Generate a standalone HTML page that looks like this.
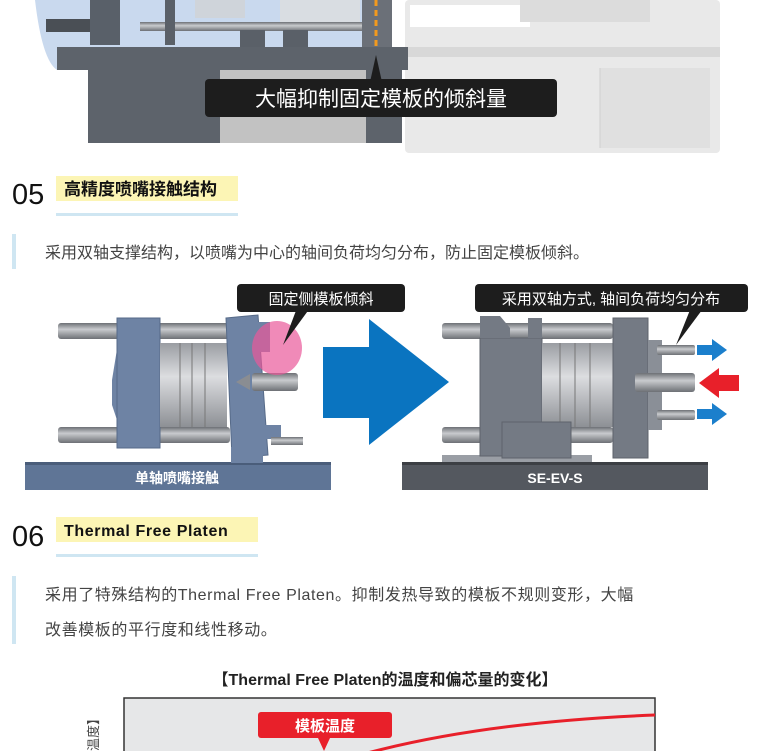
<!DOCTYPE html>
<html><head><meta charset="utf-8"><style>
html,body{margin:0;padding:0;background:#fff;}
body{width:768px;height:751px;overflow:hidden;position:relative;font-family:"Liberation Sans","Noto Sans CJK SC",sans-serif;}
.abs{position:absolute;}
</style></head><body>
<svg class="abs" style="left:0;top:0" width="768" height="751" xmlns="http://www.w3.org/2000/svg">
<defs>
<linearGradient id="rod" x1="0" y1="0" x2="0" y2="1"><stop offset="0" stop-color="#6d7075"/><stop offset="0.4" stop-color="#c9cbce"/><stop offset="1" stop-color="#6d7075"/></linearGradient>
<linearGradient id="drum" x1="0" y1="0" x2="0" y2="1"><stop offset="0" stop-color="#9a9da2"/><stop offset="0.4" stop-color="#dcdde0"/><stop offset="1" stop-color="#8d9095"/></linearGradient>
</defs>
<!-- top machine image -->
<path d="M35 0 H380 V47 H57 V70 Q42 60 35 0Z" fill="#c9d9ee"/>
<rect x="405" y="0" width="315" height="153" fill="#e9e9e9" rx="4"/>
<rect x="410" y="5" width="120" height="22" fill="#fff"/>
<rect x="520" y="0" width="130" height="22" fill="#dcdcdc"/>
<rect x="405" y="47" width="315" height="10" fill="#d8d8d8"/>
<rect x="600" y="68" width="110" height="80" fill="#e0e0e0"/>
<line x1="600" y1="68" x2="600" y2="148" stroke="#cfcfcf"/>
<rect x="46" y="19" width="45" height="13" fill="#4a4f55"/>
<rect x="90" y="0" width="30" height="45" fill="#596069"/>
<rect x="140" y="22" width="225" height="9" fill="url(#rod)"/>
<rect x="165" y="0" width="10" height="45" fill="#5a6068"/>
<rect x="240" y="30" width="25" height="17" fill="#5a6068"/>
<rect x="283" y="30" width="25" height="17" fill="#5a6068"/>
<rect x="195" y="0" width="50" height="18" fill="#cfd4da"/>
<rect x="280" y="0" width="80" height="22" fill="#d9dde2"/>
<rect x="362" y="0" width="30" height="47" fill="#6b7078"/>
<rect x="57" y="47" width="351" height="23" fill="#5d636b"/>
<rect x="88" y="70" width="132" height="73" fill="#5d636b"/>
<rect x="366" y="70" width="36" height="73" fill="#5d636b"/>
<rect x="220" y="70" width="146" height="73" fill="#c2c2c2"/>
<line x1="376" y1="0" x2="376" y2="47" stroke="#f39a1e" stroke-width="3" stroke-dasharray="6,4"/>
<polygon points="370,82 376,55 382,82" fill="#1d1d1d"/>
<rect x="205" y="79" width="352" height="38" rx="4" fill="#1d1d1d"/>
<text x="381" y="106" fill="#fff" font-size="21" text-anchor="middle">大幅抑制固定模板的倾斜量</text>

<!-- section 05 -->
<text x="12" y="204" font-size="29" fill="#111">05</text>
<rect x="56" y="176" width="182" height="25" fill="#fcf5b5"/>
<text x="64" y="195" font-size="17" font-weight="bold" fill="#111">高精度喷嘴接触结构</text>
<rect x="56" y="213" width="182" height="3" fill="#cfe6f2"/>
<rect x="12" y="234" width="4" height="35" fill="#cfe6f2"/>
<text x="45" y="258" font-size="16" fill="#444">采用双轴支撑结构，以喷嘴为中心的轴间负荷均匀分布，防止固定模板倾斜。</text>

<!-- left machine -->
<rect x="25" y="462" width="306" height="28" fill="#5f7596"/>
<rect x="25" y="462" width="306" height="3" fill="#4a5d7a"/>
<text x="177" y="483" font-size="14" font-weight="bold" fill="#fff" text-anchor="middle">单轴喷嘴接触</text>
<rect x="58" y="323" width="172" height="16" rx="3" fill="url(#rod)"/>
<rect x="58" y="427" width="172" height="16" rx="3" fill="url(#rod)"/>
<polygon points="112,380 118,343 150,343 150,423 118,423 112,405" fill="#6e83a4"/>
<rect x="117" y="318" width="43" height="130" fill="#6e83a4" stroke="#566a88"/>
<rect x="160" y="343" width="67" height="84" fill="url(#drum)"/>
<line x1="180" y1="343" x2="180" y2="427" stroke="#777"/><line x1="192" y1="343" x2="192" y2="427" stroke="#777"/><line x1="205" y1="343" x2="205" y2="427" stroke="#777"/>
<polygon points="226,318 258,315 268,455 232,458" fill="#6e83a4" stroke="#566a88"/>
<rect x="256" y="322" width="14" height="30" fill="#6e83a4"/>
<rect x="231" y="447" width="32" height="16" fill="#6e83a4"/>
<rect x="252" y="373" width="46" height="18" rx="3" fill="url(#rod)"/>
<polygon points="236,382 250,374 250,390" fill="#8a8d92"/>
<rect x="265" y="425" width="16" height="14" fill="#6e83a4"/>
<rect x="271" y="437" width="32" height="8" fill="url(#rod)"/>
<ellipse cx="277" cy="348" rx="25" ry="27" fill="#e9589a" opacity="0.7"/>
<polygon points="283,345 297,308 310,308" fill="#1d1d1d"/>
<rect x="237" y="284" width="168" height="28" rx="4" fill="#1d1d1d"/>
<text x="321" y="304" font-size="15" fill="#fff" text-anchor="middle">固定侧模板倾斜</text>

<!-- big arrow -->
<polygon points="323,347 369,347 369,319 449,382 369,445 369,418 323,418" fill="#0a74c0"/>

<!-- right machine -->
<rect x="402" y="462" width="306" height="28" fill="#54585f"/>
<rect x="402" y="462" width="306" height="3" fill="#3c3f44"/>
<text x="555" y="483" font-size="14" font-weight="bold" fill="#fff" text-anchor="middle">SE-EV-S</text>
<rect x="442" y="455" width="150" height="7" fill="#9a9ea5"/>
<rect x="442" y="323" width="171" height="16" rx="3" fill="url(#rod)"/>
<rect x="442" y="427" width="171" height="16" rx="3" fill="url(#rod)"/>
<rect x="480" y="338" width="62" height="118" fill="#747a84" stroke="#5e636b"/>
<polygon points="480,316 500,316 510,328 510,338 480,338" fill="#747a84"/>
<rect x="528" y="318" width="14" height="20" fill="#747a84"/>
<rect x="542" y="343" width="71" height="84" fill="url(#drum)"/>
<line x1="560" y1="343" x2="560" y2="427" stroke="#777"/><line x1="575" y1="343" x2="575" y2="427" stroke="#777"/><line x1="590" y1="343" x2="590" y2="427" stroke="#777"/>
<rect x="502" y="422" width="69" height="36" fill="#747a84" stroke="#5e636b"/>
<rect x="613" y="318" width="35" height="140" fill="#747a84" stroke="#5e636b"/>
<rect x="648" y="340" width="14" height="90" fill="#8a8f97"/>
<rect x="635" y="373" width="60" height="19" rx="3" fill="url(#rod)"/>
<rect x="657" y="345" width="38" height="10" rx="2" fill="url(#rod)"/>
<rect x="657" y="410" width="38" height="10" rx="2" fill="url(#rod)"/>
<polygon points="697,345 712,345 712,339 727,350 712,361 712,355 697,355" fill="#1b7fcc"/>
<polygon points="697,409 712,409 712,403 727,414 712,425 712,419 697,419" fill="#1b7fcc"/>
<polygon points="739,375 719,375 719,368 699,383 719,398 719,391 739,391" fill="#e8202a"/>
<polygon points="676,345 690,310 702,310" fill="#1d1d1d"/>
<rect x="475" y="284" width="273" height="28" rx="4" fill="#1d1d1d"/>
<text x="611" y="304" font-size="15" fill="#fff" text-anchor="middle">采用双轴方式, 轴间负荷均匀分布</text>

<!-- section 06 -->
<text x="12" y="546" font-size="29" fill="#111">06</text>
<rect x="56" y="517" width="202" height="25" fill="#fcf5b5"/>
<text x="64" y="536" font-size="16" font-weight="bold" fill="#111" letter-spacing="0.6">Thermal Free Platen</text>
<rect x="56" y="554" width="202" height="3" fill="#cfe6f2"/>
<rect x="12" y="576" width="4" height="68" fill="#cfe6f2"/>
<text x="45" y="600" font-size="16" fill="#444" letter-spacing="0.6">采用了特殊结构的Thermal Free Platen。抑制发热导致的模板不规则变形，大幅</text>
<text x="45" y="635" font-size="16" fill="#444" letter-spacing="0.6">改善模板的平行度和线性移动。</text>

<!-- chart -->
<text x="385" y="685" font-size="16" font-weight="bold" fill="#222" text-anchor="middle">【Thermal Free Platen的温度和偏芯量的变化】</text>
<rect x="124" y="698" width="531" height="60" fill="#e6e7e8" stroke="#333" stroke-width="1.5"/>
<path d="M360 755 Q480 722 655 715" stroke="#e8202a" stroke-width="3" fill="none"/>
<rect x="258" y="712" width="134" height="26" rx="3" fill="#e8202a"/>
<polygon points="318,738 330,738 324,751" fill="#e8202a"/>
<text x="325" y="731" font-size="15" font-weight="bold" fill="#fff" text-anchor="middle">模板温度</text>
<text x="0" y="0" font-size="13" fill="#444" transform="translate(98,751) rotate(-90)">温度】</text>
</svg>
</body></html>
